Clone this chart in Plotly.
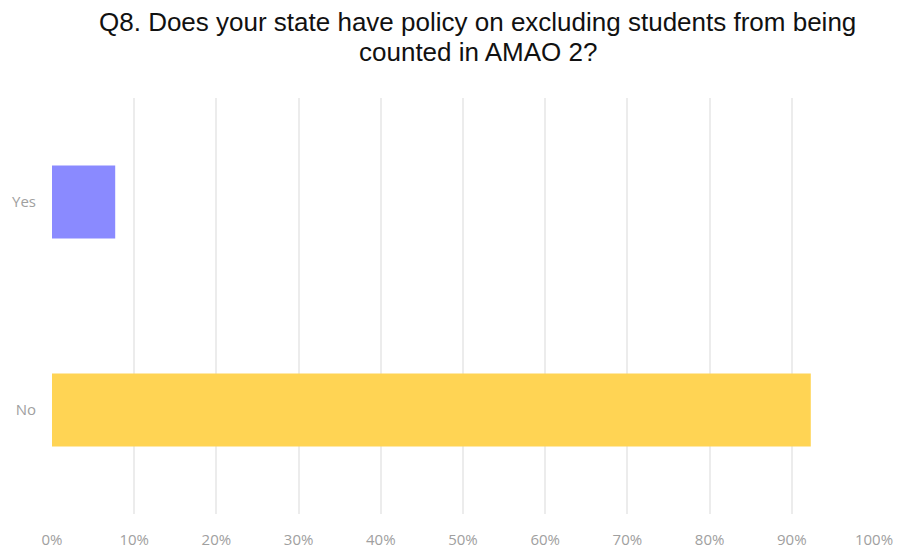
import plotly.graph_objects as go

# Survey responses (share of states)
categories = ["No", "Yes"]
shares = [0.9231, 0.0769]
bar_colors = ["#FFD454", "#8A8AFF"]
tick_values = [i / 10 for i in range(11)]
tick_labels = [f"{i * 10}%" for i in range(11)]
title_lines = [
    "Q8. Does your state have policy on excluding students from being",
    "counted in AMAO 2?",
]

fig = go.Figure(
    go.Bar(
        x=shares,
        y=categories,
        orientation="h",
        marker=dict(color=bar_colors, line=dict(width=0)),
        width=0.35,
        hoverinfo="skip",
    )
)

title_font = dict(family="Liberation Sans, Arial, sans-serif", size=26, color="#111111")
# Two title lines, placed in pixels above the plot area
for i, line in enumerate(title_lines):
    fig.add_annotation(
        text=line,
        xref="paper",
        yref="paper",
        x=0.518,
        y=1,
        yshift=76 - 30 * i,
        xanchor="center",
        yanchor="middle",
        showarrow=False,
        font=title_font,
    )

fig.update_layout(
    width=897,
    height=549,
    margin=dict(l=52, r=23, t=98, b=35, autoexpand=False),
    paper_bgcolor="white",
    plot_bgcolor="white",
    showlegend=False,
)

axis_font = dict(family="Open Sans, sans-serif", size=15, color="#a0a0a0")

fig.update_xaxes(
    range=[0, 1.0],
    tickvals=tick_values,
    ticktext=tick_labels,
    showgrid=True,
    gridcolor="#ececec",
    gridwidth=1.5,
    zeroline=False,
    showline=False,
    ticks="",
    ticklabelstandoff=15,
    tickfont=axis_font,
    automargin=False,
    fixedrange=True,
)

fig.update_yaxes(
    categoryorder="array",
    categoryarray=categories,
    range=[-0.5, 1.5],
    showgrid=False,
    zeroline=False,
    showline=False,
    ticks="",
    ticklabelstandoff=15,
    tickfont=axis_font,
    automargin=False,
    fixedrange=True,
)

fig.write_html("out.html")
